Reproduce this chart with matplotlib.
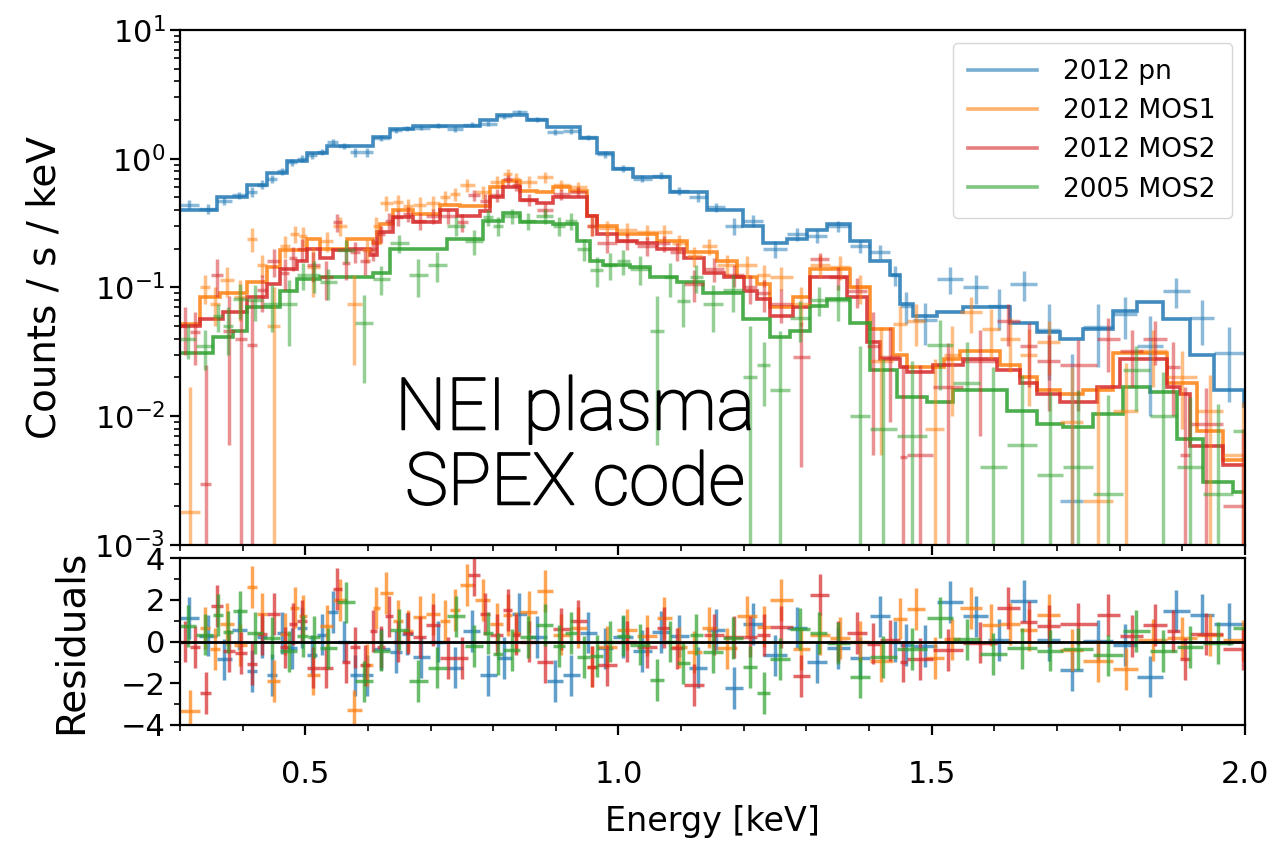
import numpy as np
import matplotlib.pyplot as plt
import matplotlib.patheffects as pe
from matplotlib.ticker import MultipleLocator

# ---- 2012 pn ----
pn_edges = [0.300, 0.330, 0.359, 0.383, 0.407, 0.423, 0.439, 0.455, 0.471, 0.487, 0.503,
            0.519, 0.535, 0.553, 0.571, 0.589, 0.608, 0.635, 0.654, 0.672, 0.699, 0.726,
            0.752, 0.779, 0.806, 0.830, 0.854, 0.886, 0.912, 0.938, 0.966, 0.991, 1.023,
            1.053, 1.082, 1.112, 1.141, 1.170, 1.199, 1.231, 1.269, 1.301, 1.333, 1.369,
            1.401, 1.433, 1.449, 1.470, 1.508, 1.550, 1.590, 1.625, 1.668, 1.705, 1.742,
            1.790, 1.828, 1.869, 1.912, 1.950, 1.998, 2.030]
pn_model = [0.40, 0.40, 0.50, 0.50, 0.62, 0.62, 0.78, 0.78, 0.96, 0.96, 1.10, 1.10, 1.25,
            1.25, 1.25, 1.25, 1.48, 1.70, 1.70, 1.80, 1.80, 1.80, 1.80, 2.00, 2.20, 2.20,
            2.00, 1.77, 1.77, 1.44, 1.10, 0.83, 0.72, 0.72, 0.55, 0.55, 0.40, 0.40, 0.30,
            0.22, 0.24, 0.28, 0.31, 0.23, 0.16, 0.125, 0.075, 0.060, 0.064, 0.070, 0.070,
            0.053, 0.045, 0.040, 0.048, 0.066, 0.077, 0.057, 0.030, 0.016, 0.012]
pn_data = [0.44, 0.41, 0.47, 0.52, 0.55, 0.63, 0.70, 0.80, 0.94, 1.00, 1.06, 1.12, 1.35,
           1.25, 1.12, 1.12, 1.45, 1.66, 1.73, 1.74, 1.80, 1.70, 1.84, 1.87, 2.13, 2.32,
           2.02, 1.62, 1.64, 1.47, 1.08, 0.84, 0.70, 0.74, 0.56, 0.50, 0.42, 0.30, 0.33,
           0.20, 0.26, 0.25, 0.30, 0.21, 0.19, 0.125, 0.072, 0.056, 0.117, 0.100, 0.072,
           0.107, 0.047, 0.0022, 0.049, 0.062, 0.035, 0.094, 0.058, 0.031, 0.0125]
pn_err = [0.035, 0.035, 0.035, 0.035, 0.05, 0.05, 0.05, 0.05, 0.06, 0.06, 0.06, 0.06, 0.07,
          0.07, 0.08, 0.08, 0.08, 0.08, 0.08, 0.08, 0.08, 0.08, 0.08, 0.08, 0.09, 0.09,
          0.09, 0.08, 0.08, 0.07, 0.06, 0.05, 0.045, 0.045, 0.04, 0.04, 0.035, 0.045, 0.035,
          0.03, 0.03, 0.03, 0.03, 0.025, 0.025, 0.022, 0.02, 0.02, 0.028, 0.025, 0.025,
          0.028, 0.028, 0.028, 0.025, 0.022, 0.025, 0.025, 0.022, 0.018, 0.01]

# ---- 2012 MOS1 ----
m1_edges = [0.300, 0.332, 0.348, 0.364, 0.386, 0.407, 0.423, 0.439, 0.460, 0.476, 0.490,
            0.503, 0.523, 0.545, 0.567, 0.590, 0.608, 0.619, 0.640, 0.656, 0.672, 0.693,
            0.715, 0.731, 0.747, 0.771, 0.795, 0.816, 0.830, 0.843, 0.870, 0.895, 0.922,
            0.950, 0.966, 0.998, 1.030, 1.061, 1.085, 1.109, 1.133, 1.157, 1.189, 1.221,
            1.242, 1.278, 1.306, 1.338, 1.369, 1.401, 1.438, 1.460, 1.490, 1.520, 1.545,
            1.580, 1.609, 1.641, 1.668, 1.705, 1.742, 1.790, 1.830, 1.875, 1.923, 1.965, 2.030]
m1_model = [0.052, 0.084, 0.084, 0.09, 0.09, 0.11, 0.11, 0.145, 0.195, 0.195, 0.195, 0.24,
            0.20, 0.20, 0.24, 0.24, 0.22, 0.31, 0.40, 0.40, 0.37, 0.37, 0.44, 0.44, 0.43,
            0.43, 0.60, 0.67, 0.67, 0.56, 0.55, 0.60, 0.56, 0.36, 0.30, 0.26, 0.26, 0.23,
            0.23, 0.19, 0.19, 0.16, 0.12, 0.107, 0.07, 0.084, 0.14, 0.14, 0.10, 0.048, 0.03,
            0.024, 0.024, 0.028, 0.032, 0.032, 0.025, 0.02, 0.016, 0.015, 0.016, 0.031,
            0.031, 0.018, 0.0077, 0.0046]
m1_data = [0.0018, 0.10, 0.075, 0.115, 0.085, 0.24, 0.15, 0.05, 0.21, 0.26, 0.25, 0.145,
           0.23, 0.30, 0.075, 0.195, 0.30, 0.45, 0.46, 0.43, 0.44, 0.45, 0.50, 0.53, 0.62,
           0.55, 0.66, 0.76, 0.70, 0.66, 0.72, 0.62, 0.60, 0.30, 0.29, 0.28, 0.27, 0.27,
           0.22, 0.175, 0.21, 0.15, 0.15, 0.125, 0.12, 0.075, 0.15, 0.145, 0.10, 0.027,
           0.052, 0.055, 0.008, 0.03, 0.064, 0.048, 0.04, 0.03, 0.038, 0.009, 0.0022,
           0.011, 0.032, 0.02, 0.011, 0.005]
m1_err = [0.015, 0.025, 0.025, 0.03, 0.03, 0.05, 0.03, 0.05, 0.04, 0.04, 0.045, 0.06,
          0.04, 0.05, 0.05, 0.04, 0.05, 0.06, 0.06, 0.06, 0.06, 0.06, 0.06, 0.06, 0.07,
          0.06, 0.07, 0.07, 0.07, 0.07, 0.07, 0.06, 0.06, 0.05, 0.04, 0.035, 0.035, 0.035,
          0.035, 0.03, 0.03, 0.03, 0.025, 0.025, 0.025, 0.025, 0.03, 0.03, 0.025, 0.022,
          0.02, 0.02, 0.02, 0.02, 0.02, 0.02, 0.018, 0.018, 0.017, 0.015, 0.015, 0.015,
          0.015, 0.012, 0.01, 0.008]

# ---- 2012 MOS2 ----
m2_edges = [0.300, 0.316, 0.332, 0.350, 0.369, 0.388, 0.407, 0.423, 0.439, 0.460, 0.474,
            0.487, 0.503, 0.523, 0.544, 0.558, 0.571, 0.587, 0.603, 0.614, 0.627, 0.640,
            0.656, 0.672, 0.693, 0.715, 0.742, 0.760, 0.779, 0.795, 0.816, 0.830, 0.843,
            0.870, 0.895, 0.922, 0.950, 0.966, 0.998, 1.030, 1.061, 1.083, 1.104, 1.136,
            1.168, 1.200, 1.221, 1.242, 1.278, 1.306, 1.336, 1.365, 1.397, 1.417, 1.449,
            1.460, 1.502, 1.550, 1.604, 1.641, 1.668, 1.705, 1.763, 1.800, 1.838, 1.875,
            1.896, 1.912, 1.965, 2.030]
m2_model = [0.05, 0.05, 0.057, 0.057, 0.064, 0.064, 0.084, 0.084, 0.107, 0.14, 0.14, 0.16,
            0.20, 0.17, 0.195, 0.195, 0.20, 0.20, 0.18, 0.27, 0.27, 0.35, 0.35, 0.32, 0.32,
            0.40, 0.36, 0.36, 0.39, 0.50, 0.60, 0.60, 0.48, 0.45, 0.50, 0.50, 0.36, 0.26,
            0.23, 0.22, 0.20, 0.20, 0.17, 0.13, 0.12, 0.094, 0.082, 0.06, 0.07, 0.12, 0.12,
            0.084, 0.038, 0.028, 0.024, 0.022, 0.025, 0.028, 0.023, 0.018, 0.015, 0.013,
            0.017, 0.028, 0.028, 0.017, 0.015, 0.0059, 0.0042]
m2_data = [0.05, 0.045, 0.003, 0.125, 0.046, 0.04, 0.036, 0.095, 0.16, 0.13, 0.17, 0.20,
           0.15, 0.12, 0.32, 0.155, 0.19, 0.16, 0.20, 0.26, 0.33, 0.35, 0.37, 0.33, 0.36,
           0.36, 0.32, 0.52, 0.47, 0.52, 0.69, 0.62, 0.48, 0.40, 0.53, 0.55, 0.30, 0.22,
           0.23, 0.21, 0.22, 0.19, 0.107, 0.14, 0.125, 0.10, 0.09, 0.075, 0.029, 0.165,
           0.12, 0.094, 0.035, 0.029, 0.0048, 0.005, 0.017, 0.027, 0.055, 0.035, 0.027,
           0.025, 0.04, 0.032, 0.04, 0.024, 0.005, 0.0087, 0.002]
m2_err = [0.02, 0.02, 0.022, 0.04, 0.04, 0.045, 0.045, 0.03, 0.04, 0.035, 0.035, 0.04,
          0.04, 0.04, 0.05, 0.04, 0.035, 0.035, 0.04, 0.04, 0.05, 0.05, 0.05, 0.05, 0.05,
          0.05, 0.05, 0.05, 0.06, 0.06, 0.06, 0.06, 0.05, 0.05, 0.05, 0.05, 0.05, 0.035,
          0.035, 0.035, 0.03, 0.03, 0.03, 0.03, 0.025, 0.025, 0.025, 0.022, 0.025, 0.02,
          0.025, 0.025, 0.03, 0.02, 0.02, 0.02, 0.02, 0.02, 0.02, 0.018, 0.016, 0.014,
          0.018, 0.015, 0.015, 0.014, 0.012, 0.008, 0.006]

# ---- 2005 MOS2 ----
o5_edges = [0.300, 0.326, 0.353, 0.369, 0.385, 0.407, 0.433, 0.460, 0.487, 0.505, 0.523,
            0.551, 0.580, 0.608, 0.635, 0.665, 0.696, 0.726, 0.755, 0.784, 0.800, 0.816,
            0.843, 0.869, 0.895, 0.915, 0.934, 0.955, 0.976, 0.997, 1.018, 1.050, 1.072,
            1.093, 1.114, 1.135, 1.167, 1.199, 1.221, 1.242, 1.274, 1.306, 1.333, 1.369,
            1.401, 1.444, 1.492, 1.534, 1.577, 1.620, 1.668, 1.710, 1.757, 1.805, 1.848,
            1.891, 1.933, 1.981, 2.030]
o5_model = [0.031, 0.031, 0.041, 0.041, 0.046, 0.07, 0.07, 0.094, 0.117, 0.117, 0.12, 0.12,
            0.12, 0.13, 0.20, 0.20, 0.20, 0.24, 0.24, 0.33, 0.33, 0.38, 0.32, 0.32, 0.31,
            0.31, 0.23, 0.16, 0.15, 0.15, 0.145, 0.12, 0.12, 0.11, 0.11, 0.09, 0.09, 0.057,
            0.057, 0.041, 0.046, 0.072, 0.082, 0.053, 0.023, 0.014, 0.013, 0.016, 0.016,
            0.011, 0.0087, 0.0082, 0.0105, 0.017, 0.0155, 0.0067, 0.0031, 0.0026]
o5_data = [0.04, 0.035, 0.06, 0.05, 0.082, 0.08, 0.075, 0.075, 0.125, 0.125, 0.11, 0.195,
           0.053, 0.117, 0.22, 0.125, 0.15, 0.30, 0.23, 0.35, 0.30, 0.36, 0.33, 0.36, 0.30,
           0.33, 0.20, 0.136, 0.15, 0.16, 0.14, 0.046, 0.12, 0.079, 0.12, 0.075, 0.095,
           0.02, 0.025, 0.016, 0.058, 0.08, 0.08, 0.01, 0.008, 0.007, 0.036, 0.018, 0.004,
           0.006, 0.0035, 0.004, 0.0025, 0.023, 0.01, 0.004, 0.0025, 0.0077]
o5_err = [0.012, 0.012, 0.015, 0.02, 0.025, 0.025, 0.03, 0.04, 0.03, 0.035, 0.03, 0.04,
          0.035, 0.03, 0.035, 0.04, 0.04, 0.05, 0.05, 0.05, 0.05, 0.05, 0.05, 0.05, 0.05,
          0.05, 0.04, 0.035, 0.035, 0.035, 0.035, 0.04, 0.035, 0.03, 0.03, 0.03, 0.03,
          0.03, 0.013, 0.03, 0.02, 0.02, 0.025, 0.025, 0.02, 0.02, 0.02, 0.02, 0.02, 0.015,
          0.012, 0.012, 0.012, 0.012, 0.012, 0.01, 0.01, 0.008]

datasets = [
    ('2012 pn', 'tab:blue', pn_edges, pn_model, pn_data, pn_err),
    ('2012 MOS1', 'tab:orange', m1_edges, m1_model, m1_data, m1_err),
    ('2012 MOS2', 'tab:red', m2_edges, m2_model, m2_data, m2_err),
    ('2005 MOS2', 'tab:green', o5_edges, o5_model, o5_data, o5_err),
]

fig = plt.figure(figsize=(12.76, 8.43), dpi=100)
ax = fig.add_axes([0.141, 0.3535, 0.8347, 0.611])
axr = fig.add_axes([0.141, 0.140, 0.8347, 0.198], sharex=ax)

for label, color, edges, model, data, err in datasets:
    edges = np.array(edges)
    model = np.array(model)
    data = np.array(data)
    err = np.array(err)
    centers = 0.5 * (edges[:-1] + edges[1:])
    halfw = 0.5 * np.diff(edges)
    ax.errorbar(centers, data, xerr=halfw, yerr=err, fmt='none', ecolor=color,
                alpha=0.5, elinewidth=2.5)
    ax.stairs(model, edges, baseline=None, color=color, lw=2.6, alpha=0.85, label=label)
    # residuals in units of sigma
    resid = (data - model) / err
    axr.errorbar(centers, resid, xerr=halfw, yerr=1, fmt='none', ecolor=color,
                 alpha=0.7, elinewidth=2.5)

axr.axhline(0, color='k', lw=2)

ax.set_yscale('log')
ax.set_ylim(1e-3, 1e1)
ax.set_xlim(0.3, 2.0)
axr.set_ylim(-4, 4)
axr.yaxis.set_major_locator(MultipleLocator(2))
axr.yaxis.set_minor_locator(MultipleLocator(1))
axr.xaxis.set_major_locator(MultipleLocator(0.5))
axr.xaxis.set_minor_locator(MultipleLocator(0.1))
plt.setp(ax.get_xticklabels(), visible=False)

for a in (ax, axr):
    a.tick_params(which='major', length=7, width=1.6, labelsize=22)
    a.tick_params(which='minor', length=4, width=1.2)
    for s in a.spines.values():
        s.set_linewidth(1.6)
axr.tick_params(axis='x', which='major', pad=18)

ax.set_ylabel('Counts / s / keV', fontsize=28, labelpad=22)
axr.set_ylabel('Residuals', fontsize=28, labelpad=22)
axr.set_xlabel('Energy [keV]', fontsize=24, labelpad=12)
fig.align_ylabels([ax, axr])

leg = ax.legend(loc='upper right', fontsize=19, labelspacing=0.5, handlelength=2.6,
                borderpad=0.6, handletextpad=1.0)
for h in leg.get_lines():
    h.set_alpha(0.6)

ax.text(0.371, 0.19, 'NEI plasma\nSPEX code', transform=ax.transAxes,
        ha='center', va='center', fontsize=52, family='Roboto', weight='light',
        linespacing=1.1,
        path_effects=[pe.withStroke(linewidth=1.3, foreground='black')])

fig.savefig('out.png', dpi=100)
